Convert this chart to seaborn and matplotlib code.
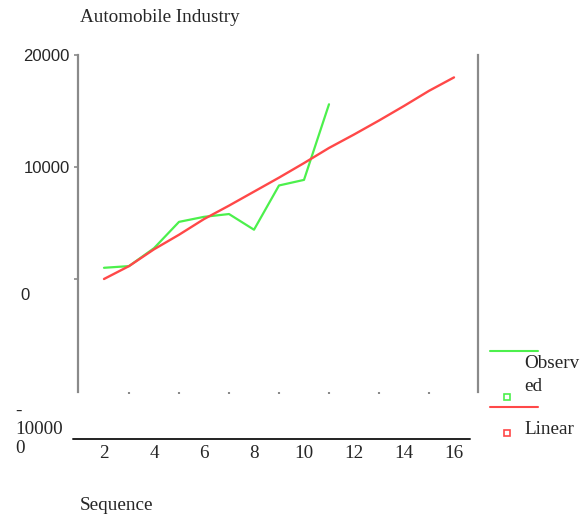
import matplotlib
matplotlib.use("Agg")
import matplotlib.pyplot as plt
from matplotlib.lines import Line2D
import seaborn as sns
import pandas as pd

title = "Automobile Industry"
x_label = "Sequence"
obs_seq = [2, 3, 4, 5, 6, 7, 8, 9, 10, 11]
observed = [1000, 1150, 2750, 5100, 5550, 5800, 4400, 8350, 8850, 15600]
lin_seq = [2, 3, 4, 5, 6, 7, 8, 9, 10, 11, 12, 13, 14, 15, 16]
linear = [0, 1150, 2650, 3950, 5350, 6550, 7800, 9050, 10350, 11700, 12900, 14150, 15450, 16800, 18000]
x_ticks = [2, 4, 6, 8, 10, 12, 14, 16]
x_minor = [3, 5, 7, 9, 11, 13, 15]
y_ticks = [0, 10000, 20000]
legend_names = ["Observ\ned", "Linear"]

GREEN = "#4cf04c"
RED = "#ff4848"
GRAY = "#8a8a8a"
SERIF_SIZE = 13.8
SANS_SIZE = 12

sns.set_style("white")
plt.rcParams["font.family"] = ["Liberation Serif", "DejaVu Serif"]

W, H = 588, 514
fig = plt.figure(figsize=(W / 100, H / 100), dpi=100)

def fx(px):
    return px / W

def fy(py):
    return 1 - py / H

ax = fig.add_axes([fx(78), fy(392), fx(478) - fx(78), fy(55) - fy(392)])
ax.set_facecolor("none")

df_obs = pd.DataFrame({"seq": obs_seq, "val": observed})
df_lin = pd.DataFrame({"seq": lin_seq, "val": linear})
sns.lineplot(data=df_obs, x="seq", y="val", color=GREEN, linewidth=1.6, ax=ax)
sns.lineplot(data=df_lin, x="seq", y="val", color=RED, linewidth=1.7, ax=ax)

ax.set_xlim(0.96, 16.96)
ax.set_ylim(-10090, 20000)

for s in ["top", "bottom"]:
    ax.spines[s].set_visible(False)
for s in ["left", "right"]:
    ax.spines[s].set_visible(True)
    ax.spines[s].set_color(GRAY)
    ax.spines[s].set_linewidth(1.6)

ax.set_xlabel("")
ax.set_ylabel("")

ax.set_xticks(x_ticks)
ax.set_xticklabels([str(v) for v in x_ticks], fontsize=SERIF_SIZE)
ax.set_xticks(x_minor, minor=True)
ax.tick_params(axis="x", which="major", length=0, pad=38.5, bottom=True)
ax.tick_params(axis="x", which="minor", length=1.5, width=1.5, color=GRAY, direction="out", bottom=True)

ax.set_yticks(y_ticks)
ax.set_yticklabels(["", "10000", "20000"], fontsize=SANS_SIZE, family="Liberation Sans")
ax.tick_params(axis="y", which="major", length=3, width=1.2, color=GRAY, pad=3, left=True)

# offset y labels as in reference
fig.text(fx(20), fy(295), "0", fontsize=SANS_SIZE, family="Liberation Sans", ha="left", va="center")
fig.text(fx(15), fy(430), "-\n10000\n0", fontsize=SERIF_SIZE, ha="left", va="center", linespacing=1.15)

# detached baseline
fig.add_artist(Line2D([fx(73), fx(470)], [fy(439), fy(439)], color="#222222", linewidth=1.4))

fig.text(fx(80), fy(18), title, fontsize=SERIF_SIZE, ha="left", va="center")
fig.text(fx(80), fy(505), x_label, fontsize=SERIF_SIZE, ha="left", va="center")

# legend
fig.add_artist(Line2D([fx(490), fx(538)], [fy(351), fy(351)], color=GREEN, linewidth=1.5))
fig.text(fx(524), fy(375), legend_names[0], fontsize=SERIF_SIZE, ha="left", va="center", linespacing=1.4)
fig.add_artist(Line2D([fx(507)], [fy(397)], marker="s", markersize=4, markerfacecolor="none",
                      markeredgecolor=GREEN, markeredgewidth=1.2, linestyle="none"))
fig.add_artist(Line2D([fx(490), fx(538)], [fy(407), fy(407)], color=RED, linewidth=1.5))
fig.text(fx(524), fy(430), legend_names[1], fontsize=SERIF_SIZE, ha="left", va="center")
fig.add_artist(Line2D([fx(507)], [fy(433)], marker="s", markersize=4, markerfacecolor="none",
                      markeredgecolor=RED, markeredgewidth=1.2, linestyle="none"))

fig.savefig("out.png", dpi=100)
